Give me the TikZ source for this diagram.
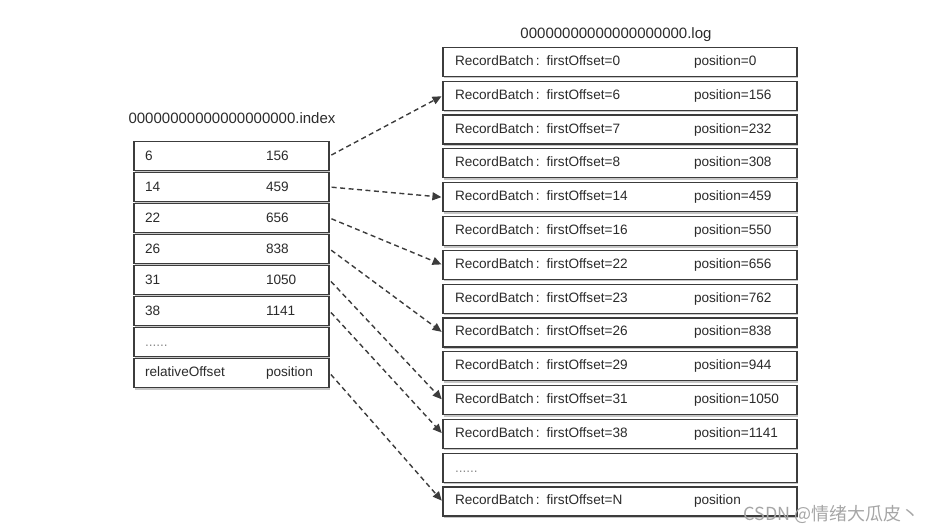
\documentclass[tikz,border=0pt]{standalone}
\usepackage{fontspec}
\setmainfont{Liberation Sans}
\newfontfamily\cjk{Noto Sans CJK SC}
\usetikzlibrary{arrows.meta,shadows}
\definecolor{boxline}{HTML}{3C3C3C}
\definecolor{boxtext}{HTML}{2B2B2B}
\tikzset{
	idxbox/.style={draw=boxline, line width=1.2pt, fill=white, minimum height=29pt, text width=173pt, inner xsep=11pt, align=left, text=boxtext, font=\fontsize{13.6}{15}\selectfont, drop shadow={shadow xshift=0.6pt, shadow yshift=-2pt, opacity=0.45}},
	logbox/.style={idxbox, text width=330pt, inner xsep=12pt},
	ptr/.style={draw=boxline, line width=1.4pt, dash pattern=on 5pt off 3.5pt, shorten <=2pt, shorten >=1pt, -{Triangle[length=9pt,width=8pt]}},
	title/.style={text=boxtext, font=\fontsize{15}{17}\selectfont}
}
\newcommand{\idxrow}[2]{\makebox[121pt][l]{#1}#2}
\newcommand{\logrow}[2]{\makebox[239pt][l]{RecordBatch\,:\hspace{7pt}firstOffset=#1}#2}
\newcommand{\rowdots}{\textcolor{black!45}{......}\vphantom{0}}
\begin{document}
\begin{tikzpicture}[x=1pt, y=-1pt]
		\useasboundingbox (0,0) rectangle (940,532);
		% index file
		\node[title] (idxname) at (232,118) {00000000000000000000.index};
		\node[idxbox] (idx6) at (231.5,156) {\idxrow{6}{156}};
		\node[idxbox] (idx14) at (231.5,187) {\idxrow{14}{459}};
		\node[idxbox] (idx22) at (231.5,218) {\idxrow{22}{656}};
		\node[idxbox] (idx26) at (231.5,249) {\idxrow{26}{838}};
		\node[idxbox] (idx31) at (231.5,280) {\idxrow{31}{1050}};
		\node[idxbox] (idx38) at (231.5,311) {\idxrow{38}{1141}};
		\node[idxbox] (idxdots) at (231.5,342) {\rowdots};
		\node[idxbox] (idxlast) at (231.5,373) {\idxrow{relativeOffset}{position}};
		% log file
		\node[title] (logname) at (616,35) {00000000000000000000.log};
		\node[logbox] (log0) at (620,62) {\logrow{0}{position=0}};
		\node[logbox] (log6) at (620,95.8) {\logrow{6}{position=156}};
		\node[logbox] (log7) at (620,129.6) {\logrow{7}{position=232}};
		\node[logbox] (log8) at (620,163.4) {\logrow{8}{position=308}};
		\node[logbox] (log14) at (620,197.2) {\logrow{14}{position=459}};
		\node[logbox] (log16) at (620,231) {\logrow{16}{position=550}};
		\node[logbox] (log22) at (620,264.8) {\logrow{22}{position=656}};
		\node[logbox] (log23) at (620,298.6) {\logrow{23}{position=762}};
		\node[logbox] (log26) at (620,332.4) {\logrow{26}{position=838}};
		\node[logbox] (log29) at (620,366.2) {\logrow{29}{position=944}};
		\node[logbox] (log31) at (620,400) {\logrow{31}{position=1050}};
		\node[logbox] (log38) at (620,433.8) {\logrow{38}{position=1141}};
		\node[logbox] (logdots) at (620,467.6) {\rowdots};
		\node[logbox] (logN) at (620,501.4) {\logrow{N}{position}};
		% pointers
		\draw[ptr] (idx6.east) -- (log6.west);
		\draw[ptr] (idx14.east) -- (log14.west);
		\draw[ptr] (idx22.east) -- (log22.west);
		\draw[ptr] (idx26.east) -- (log26.west);
		\draw[ptr] (idx31.east) -- (log31.west);
		\draw[ptr] (idx38.east) -- (log38.west);
		\draw[ptr] (idxlast.east) -- (logN.west);
		\node[text=black!35, font=\cjk\fontsize{18}{20}\selectfont, anchor=west] (mark) at (740,514) {CSDN @情绪大瓜皮丶};
	\end{tikzpicture}
\end{document}
